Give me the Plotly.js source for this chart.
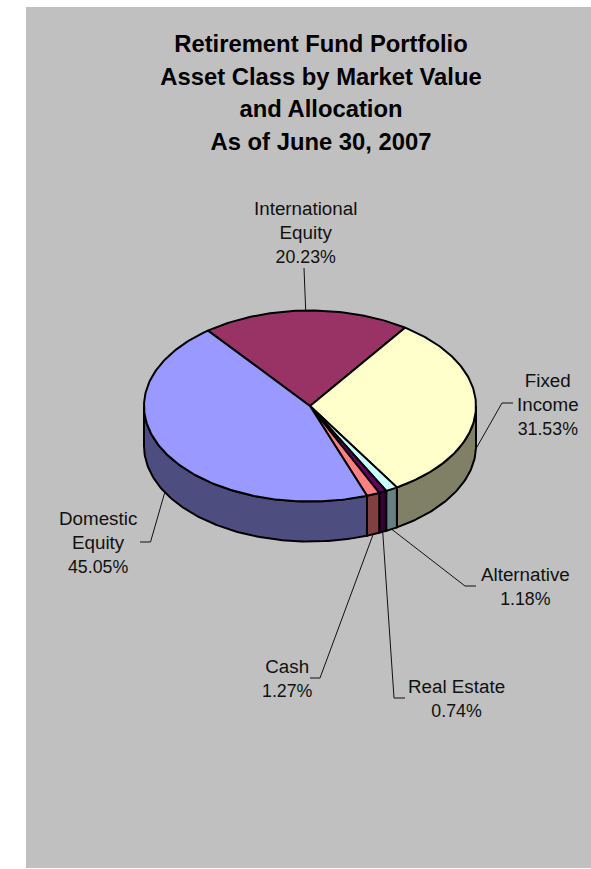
<!DOCTYPE html>
<html>
<head>
<meta charset="utf-8">
<script src="https://cdn.plot.ly/plotly-3.0.1.min.js"></script>
<style>html,body{margin:0;padding:0;background:#fff}#chart{width:591px;height:869px}</style>
</head>
<body>
<div id="chart"></div>
<script>
// Asset classes, clockwise from the first slice
const assetNames = ['International Equity', 'Fixed Income', 'Alternative', 'Real Estate', 'Cash', 'Domestic Equity'];
const labelLines = [['International', 'Equity'], ['Fixed', 'Income'], ['Alternative'], ['Real Estate'], ['Cash'], ['Domestic', 'Equity']];
const sharePercent = [20.23, 31.53, 1.18, 0.74, 1.27, 45.05];
const topColors = ['#993366', '#FFFFCC', '#CCFFFF', '#660066', '#FF8080', '#9999FF'];
const wallColors = ['#4D1A33', '#808066', '#668080', '#330033', '#804040', '#4D4D80'];
const titleLines = ['Retirement Fund Portfolio', 'Asset Class by Market Value', 'and Allocation', 'As of June 30, 2007'];

// Pie geometry in page pixels: the axes run one unit per pixel
const CX = 310, CY = 406, RX = 166, RY = 95.5, DEPTH = 40, FIRST_ANGLE = -37.9;
const total = sharePercent.reduce((a, b) => a + b, 0);

const rim = (deg, drop) => {
  const r = deg * Math.PI / 180;
  return [CX + RX * Math.sin(r), CY - RY * Math.cos(r) + drop];
};
function arc(from, to, drop) {
  const pts = [];
  const n = Math.max(2, Math.ceil(Math.abs(to - from)));
  for (let i = 0; i <= n; i++) pts.push(rim(from + (to - from) * i / n, drop));
  return pts;
}
function polygon(points, fill, name) {
  return {
    type: 'scatter', mode: 'lines', name: name,
    x: points.map(p => p[0]), y: points.map(p => p[1]),
    fill: 'toself', fillcolor: fill,
    line: {color: '#000000', width: 2, shape: 'linear'},
    hoverinfo: 'name', showlegend: false
  };
}

// Slice boundaries derived from the shares
const spans = [];
let cursor = FIRST_ANGLE;
sharePercent.forEach(v => {
  const end = cursor + v / total * 360;
  spans.push([cursor, end]);
  cursor = end;
});

const walls = [], tops = [];
spans.forEach(([a, b], i) => {
  // The wall only shows on the near half of the disc (90 to 270 degrees)
  [[a, b], [a + 360, b + 360], [a - 360, b - 360]].forEach(([s, e]) => {
    const from = Math.max(s, 90), to = Math.min(e, 270);
    if (to > from) {
      const pts = arc(from, to, 0).concat(arc(to, from, DEPTH));
      pts.push(pts[0]);
      walls.push(polygon(pts, wallColors[i], assetNames[i] + ' side'));
    }
  });
  const face = [[CX, CY]].concat(arc(a, b, 0));
  face.push([CX, CY]);
  tops.push(polygon(face, topColors[i], assetNames[i]));
});

// Leader routes: label-side elbow points, in slice order
const leaderRoutes = [
  [[304, 268]],
  [[502, 403], [513, 403]],
  [[465, 586], [476, 586]],
  [[394, 698], [405, 698]],
  [[320, 678], [310, 678]],
  [[150.5, 542], [140, 542]]
];
const leaders = spans.map(([a, b], i) => {
  const mid = (a + b) / 2;
  const norm = ((mid % 360) + 360) % 360;
  const onWall = norm > 90 && norm < 270;
  const pts = [rim(mid, onWall ? DEPTH : 0)].concat(leaderRoutes[i]);
  return {
    type: 'scatter', mode: 'lines', x: pts.map(p => p[0]), y: pts.map(p => p[1]),
    line: {color: '#111111', width: 1}, hoverinfo: 'skip', showlegend: false
  };
});

// Label anchors (middle of each text block), in slice order
const labelAnchors = [[305.5, 232], [547.5, 404], [525, 586], [456.5, 698], [287, 678], [97.5, 542]];
const lineBreakFont = 24 / 1.3;
const annotations = labelLines.map((lines, i) => ({
  xref: 'x', yref: 'y', x: labelAnchors[i][0], y: labelAnchors[i][1],
  xanchor: 'center', yanchor: 'middle', align: 'center', showarrow: false,
  font: {family: 'Liberation Sans, Arial, sans-serif', size: lineBreakFont, color: '#111111'},
  text: lines.map(t => '<span style="font-size:18.8px">' + t + '</span>')
    .concat(['<span style="font-size:17.8px">' + sharePercent[i].toFixed(2) + '%</span>']).join('<br>')
}));

const layout = {
  width: 591, height: 869,
  margin: {l: 0, r: 0, t: 0, b: 0},
  paper_bgcolor: '#FFFFFF', plot_bgcolor: 'rgba(0,0,0,0)',
  showlegend: false, hovermode: 'closest',
  title: {
    text: titleLines.map(t => '<span style="font-size:23.8px">' + t + '</span>').join('<br>'),
    x: 321 / 591, xref: 'paper', xanchor: 'center',
    y: 1 - 52 / 869, yref: 'container', yanchor: 'top',
    font: {family: 'Liberation Sans, Arial, sans-serif', size: 25, color: '#000000', weight: 'bold'}
  },
  xaxis: {range: [0, 591], visible: false, fixedrange: true},
  yaxis: {range: [869, 0], visible: false, fixedrange: true},
  shapes: [{type: 'rect', xref: 'x', yref: 'y', x0: 26, x1: 591, y0: 7, y1: 868,
            fillcolor: '#C0C0C0', line: {width: 0}, layer: 'below'}],
  annotations: annotations
};

Plotly.newPlot('chart', leaders.concat(walls, tops), layout, {displayModeBar: false, staticPlot: false});
</script>
</body>
</html>
